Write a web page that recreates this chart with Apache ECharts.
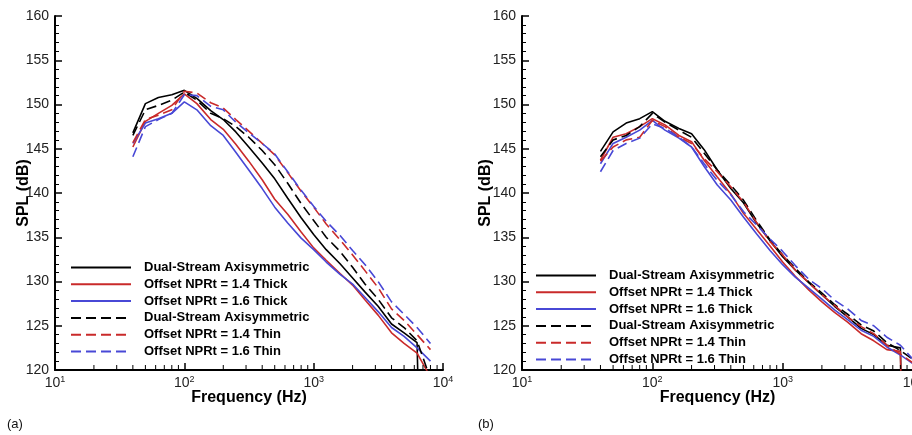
<!DOCTYPE html>
<html>
<head>
<meta charset="utf-8">
<script src="https://cdn.jsdelivr.net/npm/echarts@6/dist/echarts.min.js"></script>
<style>
html,body{margin:0;padding:0;background:#fff;}
#c{width:912px;height:435px;}
</style>
</head>
<body>
<div id="c"></div>
<script>
// ---- data ----
const freqs = [40,50,63,80,100,125,160,200,250,315,400,500,630,800,1000,1250,1600,2000,2500,3150,4000,5000,6300,8000,10000];
const minorTickFreqs = [20,30,40,50,60,70,80,90,200,300,400,500,600,700,800,900,2000,3000,4000,5000,6000,7000,8000,9000];
const legendLabels = ['Dual-Stream Axisymmetric','Offset NPRt = 1.4 Thick','Offset NPRt = 1.6 Thick','Dual-Stream Axisymmetric','Offset NPRt = 1.4 Thin','Offset NPRt = 1.6 Thin'];
const panelLabels = ['(a)','(b)'];

// panel (a)
const a_axiThick = [146.8,150.1,150.8,151.1,151.6,150.7,149.3,148.3,146.9,145.2,143.4,141.6,139.4,137.2,135.3,133.6,132.0,130.4,128.8,127.2,125.2,124.2,123.1,60,null];
const a_14Thick  = [145.2,148.1,149.0,149.9,151.2,150.1,148.3,147.2,145.5,143.6,141.5,139.3,137.6,135.6,133.8,132.4,130.9,129.6,127.9,126.2,124.2,123.0,121.9,119.2,null];
const a_16Thick  = [145.6,147.9,148.4,149.0,150.3,149.4,147.6,146.5,144.6,142.6,140.5,138.4,136.6,134.9,133.6,132.2,130.8,129.7,128.2,126.6,124.8,123.8,122.5,121.0,null];
const a_axiThin  = [146.5,149.4,149.9,150.5,151.4,150.5,149.0,148.4,147.5,146.3,144.8,143.2,141.1,138.8,136.9,135.0,133.4,131.6,129.7,128.0,125.9,124.8,123.3,119.0,null];
const a_14Thin   = [145.7,148.3,148.8,149.4,151.5,151.3,150.2,149.6,148.3,147.0,145.6,144.3,142.3,140.2,138.4,136.5,134.7,133.0,131.2,129.3,126.9,125.6,124.0,122.3,null];
const a_16Thin   = [144.1,147.5,148.3,149.0,151.1,151.0,149.8,149.4,148.0,146.8,145.6,144.4,142.4,140.3,138.5,136.8,135.2,133.5,131.9,130.0,127.7,126.3,124.8,123.0,null];

// panel (b)
const b_axiThick = [144.7,146.9,147.9,148.4,149.2,148.1,147.3,146.7,144.9,142.6,140.5,138.9,136.6,134.6,132.8,131.3,129.8,128.5,127.2,126.0,124.7,124.0,122.8,122.5,60];
const b_14Thick  = [143.7,146.3,146.7,147.5,148.4,147.7,146.5,145.8,143.7,141.8,139.9,137.7,135.9,134.0,132.2,130.6,129.0,127.7,126.5,125.4,124.1,123.3,122.3,122.1,60];
const b_16Thick  = [143.3,145.6,146.3,147.1,148.2,147.1,146.2,145.2,143.0,140.9,139.2,137.3,135.4,133.5,131.9,130.5,129.2,128.0,126.8,125.7,124.5,123.8,122.6,121.7,120.7];
const b_axiThin  = [144.1,146.0,146.5,147.5,149.0,148.0,147.1,146.3,144.5,142.6,140.9,139.2,136.9,134.7,133.0,131.5,129.9,128.7,127.4,126.3,125.1,124.4,123.1,122.2,121.2];
const b_14Thin   = [143.6,145.2,146.0,146.3,148.2,147.5,146.3,145.6,143.9,142.4,140.7,139.0,136.7,134.5,133.0,131.3,129.8,128.5,127.3,126.0,124.9,124.1,122.8,121.8,120.8];
const b_16Thin   = [142.4,144.8,145.6,146.2,147.8,147.3,146.3,145.2,143.3,141.4,139.8,137.9,136.4,134.8,133.4,131.8,130.2,129.2,127.9,126.9,125.6,125.0,123.7,122.8,121.2];

// ---- styles ----
const FONT = '"Liberation Sans", Arial, sans-serif';
const colors = ['#000000','#c92a2a','#4848d6','#000000','#c92a2a','#4848d6'];
const dashed = [false,false,false,true,true,true];
const panelSeries = [
  [a_axiThick,a_14Thick,a_16Thick,a_axiThin,a_14Thin,a_16Thin],
  [b_axiThick,b_14Thick,b_16Thick,b_axiThin,b_14Thin,b_16Thin]
];
const labelMap = {};

function toPairs(vals){
  const out = [];
  freqs.forEach((f,i)=>{ if(vals[i]!=null) out.push([f, vals[i]]); });
  return out;
}

const series = [];
const legends = [];
const legendPos = [{left:70, top:261},{left:535, top:269}];
panelSeries.forEach((arrs,p)=>{
  const names = [];
  arrs.forEach((vals,k)=>{
    const nm = 'p'+p+'s'+k;
    labelMap[nm] = legendLabels[k];
    names.push(nm);
    series.push({
      name: nm, type:'line', xAxisIndex:p, yAxisIndex:p,
      data: toPairs(vals), symbol:'none', showSymbol:false, clip:true,
      lineStyle:{color:colors[k], width:1.6, type: dashed[k] ? [10,5] : 'solid'},
      itemStyle:{color:colors[k]},
      z: dashed[k] ? 3 : 2, silent:true, animation:false
    });
  });
  // minor log ticks on the frequency axis (2..9 x 10^n), placed through the axis scale
  series.push({
    name:'minor'+p, type:'custom', xAxisIndex:p, yAxisIndex:p,
    data: minorTickFreqs.map(f=>[f,120]),
    silent:true, animation:false, z:10, clip:false,
    renderItem: function(params, api){
      const pt = api.coord([api.value(0), api.value(1)]);
      return {type:'line', shape:{x1:pt[0], y1:pt[1]-1, x2:pt[0], y2:pt[1]-5}, style:{stroke:'#000', lineWidth:1}};
    }
  });
  legends.push({
    orient:'vertical', left:legendPos[p].left, top:legendPos[p].top, padding:0,
    itemWidth:60, itemHeight:14, itemGap:3.8, selectedMode:false,
    data:names, formatter: n => labelMap[n],
    itemStyle:{opacity:0},
    textStyle:{fontSize:13, fontWeight:'bold', color:'#000', fontFamily:FONT, padding:[0,0,0,8]}
  });
});

const grids = [
  {left:55, top:16, width:388, height:354, outerBoundsMode:'none', containLabel:false},
  {left:522, top:16, width:391, height:354, outerBoundsMode:'none', containLabel:false}
];

function xAxis(i){
  return {
    type:'log', logBase:10, min:10, max:10000, gridIndex:i,
    axisLine:{show:true, lineStyle:{color:'#000', width:2}},
    axisTick:{show:true, inside:true, length:7, lineStyle:{color:'#000', width:1.5}},
    splitLine:{show:false}, minorTick:{show:false},
    axisLabel:{
      show:true, margin:5, hideOverlap:false, showMinLabel:true, showMaxLabel:true,
      formatter: v => '{b|10}{s|' + Math.round(Math.log10(v)) + '}',
      rich:{
        b:{fontSize:14, color:'#222', fontFamily:FONT, lineHeight:16},
        s:{fontSize:9, color:'#222', fontFamily:FONT, verticalAlign:'top', lineHeight:10}
      }
    },
    name:'Frequency (Hz)', nameLocation:'middle', nameGap:20, nameMoveOverlap:false,
    nameTextStyle:{fontSize:16, fontWeight:'bold', color:'#000', fontFamily:FONT}
  };
}
function yAxis(i, gap){
  return {
    type:'value', min:120, max:160, interval:5, gridIndex:i,
    axisLine:{show:true, lineStyle:{color:'#000', width:2}},
    axisTick:{show:true, inside:true, length:7, lineStyle:{color:'#000', width:1.5}},
    minorTick:{show:true, splitNumber:5, length:4, lineStyle:{color:'#000', width:1}},
    splitLine:{show:false},
    axisLabel:{fontSize:14, color:'#222', fontFamily:FONT, margin:6, hideOverlap:false, showMinLabel:true, showMaxLabel:true},
    name:'SPL (dB)', nameLocation:'middle', nameGap:gap, nameRotate:90, nameMoveOverlap:false,
    nameTextStyle:{fontSize:16, fontWeight:'bold', color:'#000', fontFamily:FONT}
  };
}

const chart = echarts.init(document.getElementById('c'), null, {renderer:'canvas'});
chart.setOption({
  animation:false,
  backgroundColor:'#fff',
  grid: grids,
  xAxis:[xAxis(0), xAxis(1)],
  yAxis:[yAxis(0,23), yAxis(1,28)],
  legend: legends,
  series: series,
  graphic:[
    {type:'text', left:7, top:418, style:{text:panelLabels[0], font:'13px '+FONT, fill:'#111'}},
    {type:'text', left:478, top:418, style:{text:panelLabels[1], font:'13px '+FONT, fill:'#111'}}
  ]
});
</script>
</body>
</html>
